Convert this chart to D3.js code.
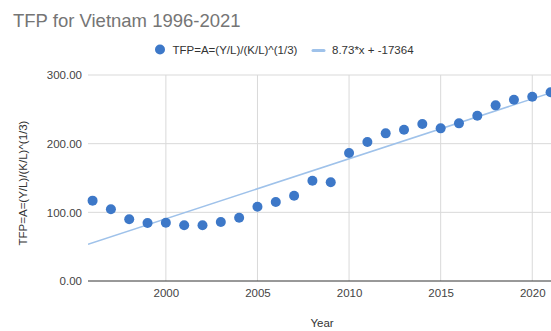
<!DOCTYPE html>
<html>
<head>
<meta charset="utf-8">
<script src="https://cdn.jsdelivr.net/npm/d3@7"></script>
<style>
  html, body { margin: 0; padding: 0; background: #fff; }
  svg { display: block; font-family: "Liberation Sans", Arial, sans-serif; }
</style>
</head>
<body>
<svg id="chart" width="551" height="331"></svg>
<script>
// TFP series for Vietnam, one value per year
const years = [1996, 1997, 1998, 1999, 2000, 2001, 2002, 2003, 2004, 2005, 2006, 2007, 2008,
               2009, 2010, 2011, 2012, 2013, 2014, 2015, 2016, 2017, 2018, 2019, 2020, 2021];
const tfpValues = [117, 104.4, 89.8, 84.5, 84.9, 81.1, 81.1, 85.9, 92.2, 108.2, 115, 124.2, 146,
                   143.7, 186.4, 202.4, 215, 220.3, 228.6, 222.3, 229.6, 240.7, 255.8, 264, 268.4, 274.8];
// Linear trendline: y = slope * x + intercept
const trendSlope = 8.7275;
const trendIntercept = -17364.3;
const xTicks = [2000, 2005, 2010, 2015, 2020];
const yTicks = [0, 100, 200, 300];

const svg = d3.select("#chart");
const plotLeft = 88, plotRight = 551.5, plotTop = 75, plotBottom = 281;
const smallFont = 11.5;

const x = d3.scaleLinear().domain([1995.75, 2021.05]).range([plotLeft, plotRight]);
const y = d3.scaleLinear().domain([0, 300]).range([plotBottom, plotTop]);

// Title
svg.append("text").attr("x", 13).attr("y", 26.5)
  .attr("font-size", 18.5).attr("fill", "#757575")
  .text("TFP for Vietnam 1996-2021");

// Legend
const trendLabel = `${d3.format(".2f")(trendSlope)}*x + ${d3.format(".0f")(trendIntercept)}`.replace("−", "-");
svg.append("circle").attr("cx", 160).attr("cy", 49.5).attr("r", 5).attr("fill", "#3d78c8");
svg.append("text").attr("x", 172.5).attr("y", 53.5).attr("font-size", smallFont).attr("fill", "#333")
  .text("TFP=A=(Y/L)/(K/L)^(1/3)");
svg.append("line").attr("x1", 313).attr("x2", 324).attr("y1", 50.5).attr("y2", 50.5)
  .attr("stroke", "#9fc2ea").attr("stroke-width", 3).attr("stroke-linecap", "round");
svg.append("text").attr("x", 332).attr("y", 54).attr("font-size", smallFont).attr("fill", "#333")
  .text(trendLabel);

// Grid
const grid = svg.append("g");
grid.selectAll("line.h").data(yTicks.filter(d => d !== 0)).join("line")
  .attr("x1", plotLeft).attr("x2", 551).attr("y1", d => y(d)).attr("y2", d => y(d))
  .attr("stroke", "#d9d9d9").attr("stroke-width", 1);
grid.selectAll("line.v").data(xTicks).join("line")
  .attr("x1", d => x(d)).attr("x2", d => x(d)).attr("y1", plotTop).attr("y2", plotBottom)
  .attr("stroke", "#d9d9d9").attr("stroke-width", 1);

// Y axis
const yAxis = d3.axisLeft(y).tickValues(yTicks).tickFormat(d3.format(".2f")).tickSize(0).tickPadding(6);
const gy = svg.append("g").attr("transform", `translate(${plotLeft},0)`).call(yAxis);
gy.select(".domain").remove();
gy.selectAll("text").attr("font-size", smallFont).attr("fill", "#444").attr("font-family", "Liberation Sans, Arial, sans-serif");

// X axis
const xAxis = d3.axisBottom(x).tickValues(xTicks).tickFormat(d3.format("d")).tickSize(0).tickPadding(8);
const gx = svg.append("g").attr("transform", `translate(0,${plotBottom})`).call(xAxis);
gx.select(".domain").remove();
gx.selectAll("text").attr("font-size", smallFont).attr("fill", "#444").attr("font-family", "Liberation Sans, Arial, sans-serif");

// Baseline
svg.append("line").attr("x1", plotLeft).attr("x2", 551).attr("y1", y(0)).attr("y2", y(0))
  .attr("stroke", "#333").attr("stroke-width", 1);

// Axis titles
svg.append("text").attr("x", 322).attr("y", 327).attr("text-anchor", "middle")
  .attr("font-size", smallFont).attr("fill", "#333").text("Year");
svg.append("text").attr("transform", `translate(26.5,${(plotTop + plotBottom) / 2 + 5}) rotate(-90)`)
  .attr("text-anchor", "middle").attr("font-size", smallFont).attr("fill", "#333")
  .text("TFP=A=(Y/L)/(K/L)^(1/3)");

// Clip for plot contents
svg.append("clipPath").attr("id", "plot").append("rect")
  .attr("x", plotLeft).attr("y", plotTop - 10).attr("width", 551 - plotLeft + 10).attr("height", plotBottom - plotTop + 10);

// Trendline
const x0 = x.domain()[0], x1 = x.domain()[1];
svg.append("line")
  .attr("clip-path", "url(#plot)")
  .attr("x1", x(x0)).attr("y1", y(trendSlope * x0 + trendIntercept))
  .attr("x2", x(x1)).attr("y2", y(trendSlope * x1 + trendIntercept))
  .attr("stroke", "#9fc2ea").attr("stroke-width", 1.5);

// Points
svg.append("g").selectAll("circle").data(years.map((yr, i) => ({ yr, v: tfpValues[i] }))).join("circle")
  .attr("cx", d => x(d.yr)).attr("cy", d => y(d.v)).attr("r", 5)
  .attr("fill", "#3d78c8");
</script>
</body>
</html>
